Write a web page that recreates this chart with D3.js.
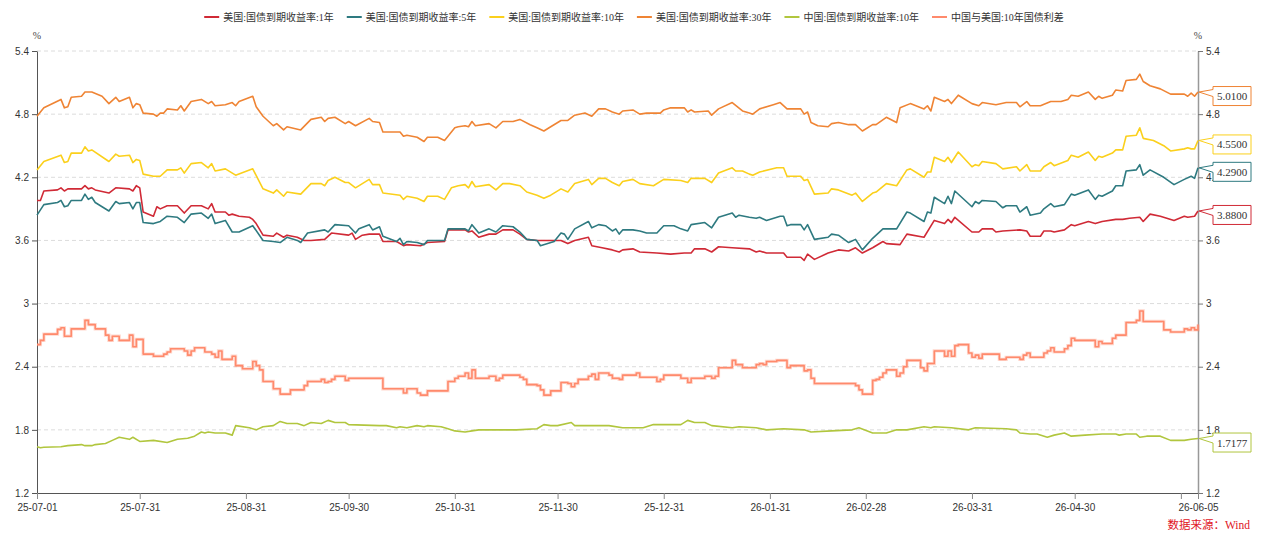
<!DOCTYPE html>
<html>
<head>
<meta charset="utf-8">
<script src="https://cdn.jsdelivr.net/npm/d3@7"></script>
<style>
body { margin: 0; background: #fff; }
svg { font-family: "Liberation Serif", "Times New Roman", "Noto Sans CJK SC", serif; }
</style>
</head>
<body>
<svg id="chart" width="1269" height="541"></svg>
<script>
// 美国1年
const us1y = [["25-07-01",3.98],["25-07-02",3.98],["25-07-03",4.07],["25-07-07",4.08],["25-07-08",4.10],["25-07-09",4.07],["25-07-10",4.09],["25-07-14",4.09],["25-07-15",4.12],["25-07-16",4.09],["25-07-17",4.10],["25-07-18",4.08],["25-07-22",4.05],["25-07-24",4.10],["25-07-28",4.09],["25-07-29",4.07],["25-07-30",4.12],["25-07-31",4.10],["25-08-01",3.87],["25-08-04",3.83],["25-08-05",3.92],["25-08-06",3.90],["25-08-08",3.93],["25-08-11",3.93],["25-08-13",3.86],["25-08-15",3.93],["25-08-18",3.93],["25-08-20",3.90],["25-08-21",3.95],["25-08-22",3.87],["25-08-25",3.87],["25-08-26",3.84],["25-08-27",3.85],["25-08-29",3.83],["25-09-01",3.82],["25-09-02",3.80],["25-09-03",3.76],["25-09-05",3.65],["25-09-08",3.64],["25-09-09",3.67],["25-09-11",3.63],["25-09-12",3.65],["25-09-15",3.63],["25-09-17",3.60],["25-09-19",3.60],["25-09-23",3.61],["25-09-25",3.67],["25-09-30",3.65],["25-10-01",3.67],["25-10-02",3.61],["25-10-04",3.65],["25-10-06",3.66],["25-10-09",3.66],["25-10-10",3.59],["25-10-14",3.59],["25-10-16",3.55],["25-10-17",3.56],["25-10-21",3.55],["25-10-23",3.58],["25-10-28",3.59],["25-10-29",3.70],["25-11-03",3.70],["25-11-04",3.68],["25-11-05",3.69],["25-11-07",3.63],["25-11-10",3.66],["25-11-12",3.66],["25-11-14",3.70],["25-11-17",3.70],["25-11-19",3.66],["25-11-21",3.61],["25-11-24",3.60],["25-11-29",3.60],["25-12-01",3.60],["25-12-03",3.57],["25-12-05",3.60],["25-12-09",3.63],["25-12-10",3.55],["25-12-13",3.53],["25-12-16",3.51],["25-12-18",3.49],["25-12-19",3.51],["25-12-22",3.52],["25-12-24",3.49],["25-12-29",3.48],["26-01-02",3.47],["26-01-06",3.48],["26-01-08",3.48],["26-01-09",3.52],["26-01-12",3.52],["26-01-14",3.49],["26-01-16",3.54],["26-01-20",3.53],["26-01-25",3.52],["26-01-27",3.49],["26-01-28",3.50],["26-01-30",3.48],["26-02-04",3.48],["26-02-05",3.44],["26-02-09",3.44],["26-02-10",3.41],["26-02-11",3.47],["26-02-13",3.42],["26-02-17",3.48],["26-02-20",3.51],["26-02-23",3.50],["26-02-25",3.53],["26-02-27",3.48],["26-03-02",3.53],["26-03-05",3.59],["26-03-06",3.57],["26-03-10",3.56],["26-03-12",3.66],["26-03-17",3.63],["26-03-20",3.79],["26-03-23",3.76],["26-03-24",3.80],["26-03-25",3.77],["26-03-26",3.82],["26-03-31",3.68],["26-04-02",3.68],["26-04-03",3.71],["26-04-06",3.71],["26-04-07",3.68],["26-04-09",3.69],["26-04-14",3.70],["26-04-16",3.69],["26-04-17",3.64],["26-04-20",3.64],["26-04-21",3.69],["26-04-23",3.69],["26-04-24",3.68],["26-04-27",3.70],["26-04-29",3.75],["26-04-30",3.74],["26-05-04",3.78],["26-05-06",3.76],["26-05-08",3.78],["26-05-12",3.80],["26-05-14",3.80],["26-05-16",3.81],["26-05-19",3.82],["26-05-20",3.78],["26-05-22",3.85],["26-05-25",3.83],["26-05-29",3.79],["26-06-01",3.83],["26-06-02",3.82],["26-06-04",3.83],["26-06-05",3.88]];

// 美国5年
const us5y = [["25-07-01",3.84],["25-07-03",3.94],["25-07-07",3.96],["25-07-08",3.98],["25-07-09",3.92],["25-07-10",3.93],["25-07-11",3.98],["25-07-14",3.98],["25-07-15",4.04],["25-07-16",3.99],["25-07-17",4.01],["25-07-18",3.96],["25-07-22",3.88],["25-07-24",3.97],["25-07-25",3.95],["25-07-28",3.96],["25-07-29",3.90],["25-07-30",3.96],["25-07-31",3.96],["25-08-01",3.77],["25-08-04",3.76],["25-08-05",3.77],["25-08-06",3.78],["25-08-08",3.83],["25-08-11",3.82],["25-08-13",3.77],["25-08-15",3.85],["25-08-18",3.86],["25-08-20",3.81],["25-08-21",3.85],["25-08-22",3.76],["25-08-25",3.79],["25-08-27",3.68],["25-08-29",3.68],["25-09-02",3.74],["25-09-05",3.60],["25-09-08",3.59],["25-09-10",3.58],["25-09-12",3.63],["25-09-15",3.60],["25-09-16",3.58],["25-09-18",3.67],["25-09-23",3.70],["25-09-24",3.68],["25-09-26",3.75],["25-09-30",3.74],["25-10-02",3.67],["25-10-03",3.71],["25-10-06",3.75],["25-10-07",3.70],["25-10-09",3.73],["25-10-10",3.64],["25-10-14",3.59],["25-10-15",3.62],["25-10-16",3.56],["25-10-17",3.59],["25-10-20",3.58],["25-10-22",3.56],["25-10-23",3.60],["25-10-28",3.60],["25-10-29",3.71],["25-11-01",3.71],["25-11-03",3.71],["25-11-04",3.69],["25-11-05",3.75],["25-11-07",3.67],["25-11-10",3.71],["25-11-12",3.68],["25-11-14",3.74],["25-11-17",3.73],["25-11-19",3.68],["25-11-21",3.61],["25-11-24",3.60],["25-11-25",3.55],["25-11-29",3.59],["25-12-01",3.67],["25-12-02",3.66],["25-12-03",3.61],["25-12-05",3.71],["25-12-09",3.78],["25-12-10",3.72],["25-12-12",3.75],["25-12-14",3.74],["25-12-16",3.69],["25-12-17",3.71],["25-12-18",3.66],["25-12-19",3.70],["25-12-22",3.70],["25-12-24",3.69],["25-12-26",3.67],["25-12-29",3.67],["25-12-31",3.74],["26-01-03",3.74],["26-01-05",3.71],["26-01-07",3.69],["26-01-08",3.75],["26-01-12",3.77],["26-01-14",3.72],["26-01-16",3.82],["26-01-20",3.86],["26-01-21",3.82],["26-01-22",3.84],["26-01-25",3.82],["26-01-27",3.81],["26-01-28",3.82],["26-01-30",3.79],["26-02-03",3.83],["26-02-04",3.83],["26-02-05",3.74],["26-02-06",3.75],["26-02-09",3.75],["26-02-10",3.70],["26-02-11",3.75],["26-02-13",3.61],["26-02-17",3.63],["26-02-18",3.66],["26-02-20",3.65],["26-02-23",3.58],["26-02-25",3.61],["26-02-27",3.51],["26-03-02",3.62],["26-03-05",3.71],["26-03-09",3.71],["26-03-12",3.87],["26-03-13",3.86],["26-03-17",3.78],["26-03-18",3.87],["26-03-19",3.86],["26-03-20",4.01],["26-03-23",3.95],["26-03-24",4.02],["26-03-25",3.95],["26-03-26",4.07],["26-03-31",3.92],["26-04-01",3.97],["26-04-02",3.95],["26-04-03",3.98],["26-04-07",3.97],["26-04-09",3.91],["26-04-10",3.93],["26-04-13",3.93],["26-04-14",3.87],["26-04-16",3.92],["26-04-17",3.84],["26-04-20",3.86],["26-04-21",3.90],["26-04-23",3.95],["26-04-24",3.92],["26-04-27",3.94],["26-04-29",4.04],["26-04-30",4.03],["26-05-04",4.08],["26-05-06",3.99],["26-05-07",4.03],["26-05-08",4.02],["26-05-11",4.07],["26-05-12",4.12],["26-05-14",4.12],["26-05-15",4.26],["26-05-18",4.27],["26-05-19",4.32],["26-05-20",4.22],["26-05-22",4.27],["26-05-26",4.20],["26-05-29",4.13],["26-06-01",4.18],["26-06-03",4.21],["26-06-04",4.19],["26-06-05",4.29]];

// 美国10年
const us10y = [["25-07-01",4.27],["25-07-03",4.35],["25-07-08",4.41],["25-07-09",4.34],["25-07-10",4.35],["25-07-11",4.43],["25-07-14",4.43],["25-07-15",4.49],["25-07-16",4.45],["25-07-17",4.46],["25-07-22",4.35],["25-07-24",4.42],["25-07-25",4.40],["25-07-28",4.41],["25-07-29",4.34],["25-07-30",4.37],["25-07-31",4.36],["25-08-01",4.23],["25-08-04",4.21],["25-08-06",4.21],["25-08-08",4.27],["25-08-11",4.27],["25-08-12",4.29],["25-08-13",4.24],["25-08-15",4.33],["25-08-18",4.34],["25-08-20",4.29],["25-08-21",4.33],["25-08-22",4.26],["25-08-25",4.28],["25-08-28",4.22],["25-09-02",4.28],["25-09-05",4.09],["25-09-08",4.05],["25-09-09",4.08],["25-09-11",4.02],["25-09-12",4.06],["25-09-16",4.04],["25-09-19",4.14],["25-09-22",4.14],["25-09-23",4.12],["25-09-24",4.17],["25-09-26",4.20],["25-09-29",4.15],["25-09-30",4.15],["25-10-02",4.10],["25-10-06",4.18],["25-10-07",4.13],["25-10-09",4.13],["25-10-10",4.05],["25-10-15",4.03],["25-10-16",3.99],["25-10-17",4.02],["25-10-20",4.00],["25-10-22",3.97],["25-10-23",4.02],["25-10-26",4.02],["25-10-28",3.99],["25-10-30",4.10],["25-11-01",4.12],["25-11-03",4.13],["25-11-04",4.10],["25-11-05",4.16],["25-11-06",4.11],["25-11-10",4.13],["25-11-12",4.08],["25-11-14",4.14],["25-11-16",4.14],["25-11-19",4.12],["25-11-21",4.06],["25-11-24",4.03],["25-11-26",4.00],["25-11-28",4.03],["25-12-01",4.09],["25-12-03",4.06],["25-12-05",4.14],["25-12-09",4.18],["25-12-10",4.13],["25-12-12",4.19],["25-12-14",4.19],["25-12-16",4.15],["25-12-18",4.12],["25-12-19",4.16],["25-12-22",4.18],["25-12-24",4.14],["25-12-28",4.12],["25-12-31",4.18],["26-01-05",4.17],["26-01-07",4.15],["26-01-08",4.19],["26-01-12",4.19],["26-01-14",4.15],["26-01-16",4.24],["26-01-20",4.29],["26-01-21",4.26],["26-01-23",4.26],["26-01-25",4.23],["26-01-26",4.22],["26-01-28",4.25],["26-02-02",4.29],["26-02-04",4.29],["26-02-05",4.21],["26-02-09",4.21],["26-02-10",4.17],["26-02-11",4.18],["26-02-13",4.04],["26-02-17",4.05],["26-02-18",4.09],["26-02-20",4.08],["26-02-24",4.03],["26-02-25",4.05],["26-02-27",3.97],["26-03-02",4.05],["26-03-03",4.06],["26-03-06",4.14],["26-03-09",4.12],["26-03-12",4.27],["26-03-13",4.28],["26-03-17",4.20],["26-03-18",4.25],["26-03-19",4.25],["26-03-20",4.39],["26-03-23",4.35],["26-03-24",4.39],["26-03-25",4.34],["26-03-27",4.44],["26-03-31",4.30],["26-04-01",4.32],["26-04-02",4.31],["26-04-03",4.35],["26-04-07",4.33],["26-04-09",4.28],["26-04-13",4.30],["26-04-14",4.26],["26-04-16",4.32],["26-04-17",4.26],["26-04-20",4.26],["26-04-21",4.30],["26-04-23",4.34],["26-04-24",4.31],["26-04-28",4.36],["26-04-29",4.41],["26-05-01",4.39],["26-05-04",4.44],["26-05-06",4.36],["26-05-07",4.40],["26-05-08",4.39],["26-05-11",4.43],["26-05-12",4.46],["26-05-14",4.46],["26-05-15",4.59],["26-05-18",4.60],["26-05-19",4.67],["26-05-20",4.57],["26-05-23",4.55],["26-05-26",4.50],["26-05-28",4.45],["26-06-01",4.47],["26-06-02",4.48],["26-06-03",4.47],["26-06-04",4.47],["26-06-05",4.55]];

// 美国30年
const us30y = [["25-07-01",4.78],["25-07-03",4.86],["25-07-08",4.94],["25-07-09",4.86],["25-07-10",4.87],["25-07-11",4.96],["25-07-14",4.97],["25-07-15",5.01],["25-07-17",5.01],["25-07-20",4.97],["25-07-22",4.90],["25-07-24",4.96],["25-07-25",4.92],["25-07-28",4.96],["25-07-29",4.86],["25-07-30",4.90],["25-07-31",4.89],["25-08-01",4.81],["25-08-04",4.80],["25-08-05",4.78],["25-08-06",4.81],["25-08-07",4.81],["25-08-08",4.85],["25-08-11",4.84],["25-08-12",4.88],["25-08-13",4.83],["25-08-15",4.92],["25-08-18",4.94],["25-08-20",4.90],["25-08-21",4.92],["25-08-22",4.88],["25-08-25",4.89],["25-08-27",4.91],["25-08-28",4.88],["25-08-29",4.92],["25-09-02",4.97],["25-09-03",4.87],["25-09-05",4.78],["25-09-08",4.69],["25-09-09",4.71],["25-09-11",4.65],["25-09-12",4.68],["25-09-16",4.65],["25-09-19",4.75],["25-09-22",4.77],["25-09-23",4.73],["25-09-24",4.76],["25-09-26",4.77],["25-09-29",4.71],["25-09-30",4.73],["25-10-02",4.69],["25-10-06",4.76],["25-10-07",4.73],["25-10-09",4.72],["25-10-10",4.63],["25-10-15",4.63],["25-10-16",4.59],["25-10-17",4.60],["25-10-20",4.58],["25-10-22",4.54],["25-10-23",4.58],["25-10-26",4.58],["25-10-28",4.55],["25-10-31",4.67],["25-11-01",4.68],["25-11-03",4.69],["25-11-04",4.68],["25-11-05",4.73],["25-11-06",4.69],["25-11-10",4.71],["25-11-12",4.67],["25-11-14",4.73],["25-11-17",4.73],["25-11-19",4.75],["25-11-22",4.70],["25-11-24",4.67],["25-11-26",4.64],["25-11-28",4.68],["25-12-01",4.74],["25-12-03",4.74],["25-12-05",4.79],["25-12-08",4.81],["25-12-10",4.78],["25-12-12",4.85],["25-12-14",4.85],["25-12-16",4.82],["25-12-18",4.80],["25-12-19",4.83],["25-12-22",4.84],["25-12-24",4.80],["25-12-26",4.81],["25-12-30",4.81],["25-12-31",4.84],["26-01-02",4.86],["26-01-06",4.86],["26-01-07",4.82],["26-01-08",4.84],["26-01-09",4.82],["26-01-13",4.83],["26-01-14",4.79],["26-01-16",4.85],["26-01-20",4.91],["26-01-23",4.83],["26-01-25",4.81],["26-01-26",4.80],["26-01-28",4.85],["26-02-01",4.89],["26-02-03",4.91],["26-02-05",4.85],["26-02-09",4.85],["26-02-10",4.80],["26-02-11",4.82],["26-02-12",4.72],["26-02-14",4.69],["26-02-17",4.68],["26-02-18",4.71],["26-02-20",4.72],["26-02-23",4.70],["26-02-25",4.70],["26-02-27",4.64],["26-03-02",4.70],["26-03-03",4.70],["26-03-06",4.77],["26-03-09",4.72],["26-03-10",4.86],["26-03-13",4.90],["26-03-17",4.85],["26-03-18",4.88],["26-03-19",4.83],["26-03-20",4.96],["26-03-23",4.92],["26-03-24",4.94],["26-03-25",4.90],["26-03-27",4.98],["26-03-31",4.90],["26-04-02",4.88],["26-04-03",4.91],["26-04-07",4.89],["26-04-10",4.91],["26-04-13",4.91],["26-04-14",4.87],["26-04-16",4.92],["26-04-17",4.88],["26-04-20",4.88],["26-04-23",4.92],["26-04-26",4.92],["26-04-28",4.94],["26-04-29",4.98],["26-05-01",4.97],["26-05-04",5.01],["26-05-06",4.94],["26-05-07",4.97],["26-05-08",4.95],["26-05-11",4.98],["26-05-12",5.03],["26-05-14",5.02],["26-05-15",5.12],["26-05-18",5.13],["26-05-19",5.18],["26-05-20",5.11],["26-05-22",5.07],["26-05-25",5.04],["26-05-28",4.99],["26-06-01",4.99],["26-06-02",4.97],["26-06-03",5.00],["26-06-04",4.97],["26-06-05",5.01]];

// 中国10年
const cn10y = [["25-07-01",1.64],["25-07-02",1.63],["25-07-03",1.635],["25-07-08",1.64],["25-07-10",1.65],["25-07-14",1.66],["25-07-15",1.65],["25-07-17",1.65],["25-07-18",1.66],["25-07-21",1.67],["25-07-23",1.70],["25-07-25",1.73],["25-07-28",1.71],["25-07-29",1.73],["25-07-31",1.69],["25-08-04",1.70],["25-08-08",1.68],["25-08-11",1.71],["25-08-14",1.72],["25-08-16",1.74],["25-08-18",1.78],["25-08-19",1.77],["25-08-20",1.78],["25-08-22",1.77],["25-08-25",1.77],["25-08-27",1.75],["25-08-28",1.84],["25-09-01",1.82],["25-09-03",1.80],["25-09-05",1.83],["25-09-08",1.84],["25-09-10",1.88],["25-09-12",1.86],["25-09-15",1.86],["25-09-17",1.84],["25-09-19",1.87],["25-09-22",1.86],["25-09-24",1.89],["25-09-26",1.87],["25-09-29",1.87],["25-09-30",1.85],["25-10-09",1.84],["25-10-11",1.84],["25-10-14",1.82],["25-10-15",1.83],["25-10-17",1.82],["25-10-20",1.84],["25-10-22",1.83],["25-10-23",1.84],["25-10-27",1.83],["25-10-29",1.81],["25-10-31",1.79],["25-11-03",1.78],["25-11-05",1.79],["25-11-07",1.80],["25-11-13",1.80],["25-11-18",1.80],["25-11-24",1.81],["25-11-26",1.85],["25-11-28",1.84],["25-11-30",1.84],["25-12-04",1.87],["25-12-05",1.84],["25-12-09",1.84],["25-12-15",1.84],["25-12-19",1.82],["25-12-25",1.82],["25-12-28",1.85],["26-01-05",1.85],["26-01-07",1.89],["26-01-09",1.87],["26-01-12",1.87],["26-01-14",1.84],["26-01-20",1.82],["26-01-22",1.83],["26-01-27",1.82],["26-01-30",1.80],["26-02-04",1.81],["26-02-10",1.80],["26-02-12",1.78],["26-02-18",1.79],["26-02-24",1.80],["26-02-26",1.82],["26-03-02",1.77],["26-03-06",1.77],["26-03-09",1.80],["26-03-12",1.80],["26-03-17",1.83],["26-03-19",1.82],["26-03-20",1.83],["26-03-25",1.82],["26-03-30",1.80],["26-04-01",1.82],["26-04-10",1.81],["26-04-13",1.80],["26-04-14",1.77],["26-04-17",1.76],["26-04-19",1.76],["26-04-22",1.73],["26-04-24",1.75],["26-04-27",1.77],["26-04-29",1.74],["26-05-03",1.75],["26-05-08",1.76],["26-05-12",1.76],["26-05-13",1.75],["26-05-15",1.76],["26-05-18",1.76],["26-05-19",1.73],["26-05-21",1.74],["26-05-25",1.74],["26-05-28",1.70],["26-06-01",1.70],["26-06-03",1.71],["26-06-05",1.7177]];

// 中美10年利差
const spread10y = [["25-07-01",2.61],["25-07-02",2.65],["25-07-03",2.71],["25-07-07",2.755],["25-07-08",2.77],["25-07-09",2.69],["25-07-11",2.76],["25-07-15",2.84],["25-07-16",2.80],["25-07-18",2.76],["25-07-21",2.70],["25-07-22",2.65],["25-07-23",2.69],["25-07-25",2.65],["25-07-28",2.70],["25-07-29",2.59],["25-07-30",2.66],["25-08-01",2.52],["25-08-04",2.50],["25-08-07",2.52],["25-08-08",2.54],["25-08-09",2.57],["25-08-13",2.55],["25-08-14",2.51],["25-08-15",2.55],["25-08-16",2.58],["25-08-19",2.54],["25-08-21",2.52],["25-08-22",2.49],["25-08-23",2.55],["25-08-24",2.47],["25-08-27",2.50],["25-08-28",2.41],["25-08-30",2.38],["25-09-02",2.45],["25-09-03",2.41],["25-09-04",2.37],["25-09-05",2.26],["25-09-08",2.19],["25-09-10",2.14],["25-09-13",2.18],["25-09-17",2.22],["25-09-18",2.26],["25-09-22",2.28],["25-09-23",2.25],["25-09-24",2.26],["25-09-25",2.28],["25-09-26",2.31],["25-09-29",2.27],["25-09-30",2.29],["25-10-10",2.19],["25-10-16",2.15],["25-10-17",2.19],["25-10-20",2.15],["25-10-21",2.13],["25-10-23",2.17],["25-10-29",2.26],["25-10-31",2.29],["25-11-01",2.31],["25-11-03",2.34],["25-11-04",2.29],["25-11-05",2.37],["25-11-06",2.29],["25-11-10",2.31],["25-11-12",2.27],["25-11-13",2.29],["25-11-14",2.32],["25-11-19",2.30],["25-11-20",2.28],["25-11-21",2.23],["25-11-24",2.22],["25-11-25",2.18],["25-11-26",2.13],["25-11-28",2.17],["25-12-01",2.25],["25-12-03",2.24],["25-12-04",2.21],["25-12-05",2.24],["25-12-06",2.28],["25-12-09",2.31],["25-12-10",2.33],["25-12-11",2.28],["25-12-12",2.34],["25-12-15",2.32],["25-12-16",2.29],["25-12-18",2.28],["25-12-19",2.32],["25-12-23",2.34],["25-12-24",2.30],["25-12-29",2.26],["25-12-30",2.28],["25-12-31",2.32],["26-01-05",2.29],["26-01-07",2.25],["26-01-08",2.29],["26-01-12",2.31],["26-01-14",2.29],["26-01-15",2.31],["26-01-16",2.39],["26-01-20",2.46],["26-01-21",2.42],["26-01-23",2.39],["26-01-27",2.42],["26-01-28",2.43],["26-01-29",2.42],["26-01-30",2.45],["26-02-02",2.46],["26-02-05",2.39],["26-02-06",2.41],["26-02-10",2.36],["26-02-11",2.37],["26-02-12",2.29],["26-02-13",2.24],["26-02-25",2.22],["26-02-26",2.18],["26-02-27",2.14],["26-03-02",2.27],["26-03-03",2.28],["26-03-04",2.30],["26-03-05",2.34],["26-03-06",2.37],["26-03-09",2.31],["26-03-10",2.34],["26-03-11",2.40],["26-03-12",2.46],["26-03-16",2.39],["26-03-17",2.36],["26-03-18",2.43],["26-03-20",2.55],["26-03-23",2.50],["26-03-24",2.55],["26-03-25",2.50],["26-03-26",2.60],["26-03-27",2.61],["26-03-30",2.53],["26-03-31",2.49],["26-04-01",2.51],["26-04-02",2.48],["26-04-03",2.52],["26-04-08",2.47],["26-04-10",2.49],["26-04-14",2.47],["26-04-15",2.51],["26-04-16",2.53],["26-04-17",2.49],["26-04-21",2.53],["26-04-22",2.55],["26-04-23",2.58],["26-04-24",2.54],["26-04-27",2.57],["26-04-28",2.60],["26-04-29",2.67],["26-04-30",2.65],["26-05-06",2.59],["26-05-07",2.64],["26-05-08",2.62],["26-05-11",2.67],["26-05-12",2.70],["26-05-15",2.82],["26-05-18",2.84],["26-05-19",2.93],["26-05-20",2.83],["26-05-26",2.75],["26-05-28",2.73],["26-06-01",2.76],["26-06-02",2.75],["26-06-03",2.77],["26-06-04",2.75],["26-06-05",2.80]];

const seriesNames = ["美国:国债到期收益率:1年", "美国:国债到期收益率:5年", "美国:国债到期收益率:10年", "美国:国债到期收益率:30年", "中国:国债到期收益率:10年", "中国与美国:10年国债利差"];
const seriesData = [us1y, us5y, us10y, us30y, cn10y, spread10y];
const endLabels = ["3.8800", "4.2900", "4.5500", "5.0100", "1.7177", null];
const colors = ["#d02a36", "#2e7a80", "#fbd01c", "#ef8434", "#b1c63e", "#ff8a6c"];

const yTicks = [1.2, 1.8, 2.4, 3, 3.6, 4.2, 4.8, 5.4];
const xTickDates = ["25-07-01", "25-07-31", "25-08-31", "25-09-30", "25-10-31", "25-11-30", "25-12-31", "26-01-31", "26-02-28", "26-03-31", "26-04-30", "26-05-31", "26-06-05"];
const xTickLabels = ["25-07-01", "25-07-31", "25-08-31", "25-09-30", "25-10-31", "25-11-30", "25-12-31", "26-01-31", "26-02-28", "26-03-31", "26-04-30", "", "26-06-05"];
const sourceText = "数据来源：Wind";

const parse = d3.timeParse("%y-%m-%d");
const svg = d3.select("#chart");

const plotL = 37, plotR = 1198, plotT = 51, plotB = 493;

const x = d3.scaleTime()
    .domain([parse("25-07-01"), parse("26-06-05")])
    .range([plotL, plotR]);

const y = d3.scaleLinear()
    .domain([1.2, 5.4])
    .range([plotB, plotT]);

// grid
svg.append("g")
    .selectAll("line")
    .data(yTicks.filter(d => d > 1.2))
    .join("line")
    .attr("x1", plotL).attr("x2", plotR)
    .attr("y1", d => y(d)).attr("y2", d => y(d))
    .attr("stroke", "#dcdcdc")
    .attr("stroke-dasharray", "4,3");

// axes
const yLeft = svg.append("g")
    .attr("transform", `translate(${plotL},0)`)
    .call(d3.axisLeft(y).tickValues(yTicks).tickFormat(d3.format("")).tickSize(5).tickSizeOuter(0));
yLeft.select(".domain").attr("stroke", "#555");
yLeft.selectAll(".tick line").attr("stroke", "#555");
yLeft.selectAll("text").attr("font-size", 10).attr("fill", "#333").attr("font-family", null);

const yRight = svg.append("g")
    .attr("transform", `translate(${plotR},0)`)
    .call(d3.axisRight(y).tickValues(yTicks).tickFormat(d3.format("")).tickSize(5).tickSizeOuter(0));
yRight.select(".domain").attr("stroke", "#999").attr("stroke-width", 1.5);
yRight.selectAll(".tick line").attr("stroke", "#777");
yRight.selectAll("text").attr("font-size", 10).attr("fill", "#333").attr("font-family", null);

const xAxis = svg.append("g")
    .attr("transform", `translate(0,${plotB})`)
    .call(d3.axisBottom(x)
        .tickValues(xTickDates.map(parse))
        .tickFormat((d, i) => xTickLabels[i])
        .tickSize(6).tickSizeOuter(0));
xAxis.select(".domain").attr("stroke", "#555");
xAxis.selectAll(".tick line").attr("stroke", "#888");
xAxis.selectAll("text").attr("font-size", 10).attr("fill", "#333").attr("font-family", null).attr("dy", "0.9em");

// unit labels
svg.append("text").attr("x", plotL).attr("y", 39).attr("text-anchor", "middle")
    .attr("font-size", 10).attr("fill", "#444").text("%");
svg.append("text").attr("x", plotR).attr("y", 39).attr("text-anchor", "middle")
    .attr("font-size", 10).attr("fill", "#444").text("%");

// lines
const line = d3.line()
    .x(d => x(parse(d[0])))
    .y(d => y(d[1]));
const stepLine = d3.line()
    .x(d => x(parse(d[0])))
    .y(d => y(d[1]))
    .curve(d3.curveStepAfter);

const plot = svg.append("g");
seriesData.forEach((data, i) => {
    const isStep = i === 5;
    if (isStep) {
        plot.append("path")
            .datum(data)
            .attr("fill", "none")
            .attr("stroke", colors[i])
            .attr("stroke-opacity", 0.35)
            .attr("stroke-width", 3.2)
            .attr("d", stepLine);
    }
    plot.append("path")
        .datum(data)
        .attr("fill", "none")
        .attr("stroke", colors[i])
        .attr("stroke-width", 1.6)
        .attr("stroke-linejoin", "round")
        .attr("d", isStep ? stepLine : line);
});

// end labels
const labelG = svg.append("g");
seriesData.forEach((data, i) => {
    if (!endLabels[i]) return;
    const last = data[data.length - 1];
    const py = y(last[1]);
    const bx = 1213, bw = 38, bh = 19;
    const cy = py + 4;
    const t = cy - bh / 2, b = cy + bh / 2;
    labelG.append("path")
        .attr("d", `M${bx},${t + 3} L${plotR + 1},${py} L${bx},${t + 10} L${bx},${b} L${bx + bw},${b} L${bx + bw},${t} L${bx},${t} Z`)
        .attr("fill", "#fff")
        .attr("stroke", colors[i])
        .attr("stroke-width", 1);
    labelG.append("text")
        .attr("x", bx + bw / 2)
        .attr("y", cy + 4)
        .attr("text-anchor", "middle")
        .attr("font-size", 11)
        .attr("fill", "#333")
        .text(endLabels[i]);
});

// legend
const legend = svg.append("g").attr("transform", "translate(0,17)");
const items = [];
seriesNames.forEach((name, i) => {
    const g = legend.append("g");
    g.append("line")
        .attr("x1", 0).attr("x2", 15)
        .attr("y1", 0).attr("y2", 0)
        .attr("stroke", colors[i])
        .attr("stroke-width", 2);
    const txt = g.append("text")
        .attr("x", 19).attr("y", 4)
        .attr("font-size", 10)
        .attr("fill", "#333")
        .text(name);
    items.push({ g, w: 19 + txt.node().getComputedTextLength() });
});
const gap = 13;
const total = d3.sum(items, d => d.w) + gap * (items.length - 1);
let cx = 634 - total / 2;
items.forEach(it => {
    it.g.attr("transform", `translate(${cx},0)`);
    cx += it.w + gap;
});

// source
svg.append("text")
    .attr("x", 1250).attr("y", 529)
    .attr("text-anchor", "end")
    .attr("font-size", 11.5)
    .attr("fill", "#e0141e")
    .text(sourceText);
</script>
</body>
</html>
